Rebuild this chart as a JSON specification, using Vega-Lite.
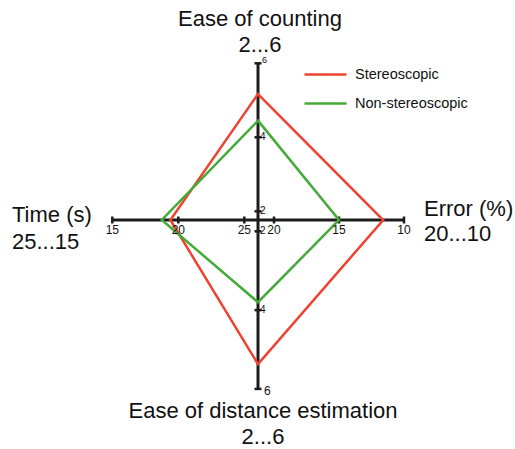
{
  "$schema": "https://vega.github.io/schema/vega-lite/v6.json",
  "width": 515,
  "height": 449,
  "padding": 0,
  "autosize": "none",
  "background": "white",
  "config": {
    "view": {"stroke": null},
    "text": {"font": "Liberation Sans", "color": "#111111"}
  },
  "data": {
    "values": [
      {"kind": "tick", "axis": "top", "value": 2},
      {"kind": "tick", "axis": "top", "value": 4},
      {"kind": "tick", "axis": "top", "value": 6},
      {"kind": "tick", "axis": "bottom", "value": 2},
      {"kind": "tick", "axis": "bottom", "value": 4},
      {"kind": "tick", "axis": "bottom", "value": 6},
      {"kind": "tick", "axis": "left", "value": 25},
      {"kind": "tick", "axis": "left", "value": 20},
      {"kind": "tick", "axis": "left", "value": 15},
      {"kind": "tick", "axis": "right", "value": 20},
      {"kind": "tick", "axis": "right", "value": 15},
      {"kind": "tick", "axis": "right", "value": 10},
      {"kind": "title", "axis": "top", "value": 6, "text": "Ease of counting\n2...6"},
      {"kind": "title", "axis": "bottom", "value": 6, "text": "Ease of distance estimation\n2...6"},
      {"kind": "title", "axis": "left", "value": 15, "text": "Time (s)\n25...15"},
      {"kind": "title", "axis": "right", "value": 10, "text": "Error (%)\n20...10"},
      {"kind": "score", "series": "Stereoscopic", "axis": "top", "value": 5.17},
      {"kind": "score", "series": "Stereoscopic", "axis": "right", "value": 11.6},
      {"kind": "score", "series": "Stereoscopic", "axis": "bottom", "value": 5.37},
      {"kind": "score", "series": "Stereoscopic", "axis": "left", "value": 19.4},
      {"kind": "score", "series": "Non-stereoscopic", "axis": "top", "value": 4.45},
      {"kind": "score", "series": "Non-stereoscopic", "axis": "right", "value": 15},
      {"kind": "score", "series": "Non-stereoscopic", "axis": "bottom", "value": 3.8},
      {"kind": "score", "series": "Non-stereoscopic", "axis": "left", "value": 18.75}
    ]
  },
  "transform": [
    {"calculate": "datum.axis === 'top' ? 8.7 + 37 * (datum.value - 2) : datum.axis === 'bottom' ? 11.3 + 39.4 * (datum.value - 2) : datum.axis === 'left' ? 13.7 + 13.2 * (25 - datum.value) : 16 + 13 * (20 - datum.value)", "as": "r"},
    {"calculate": "datum.axis === 'left' ? -datum.r : datum.axis === 'right' ? datum.r : 0", "as": "px"},
    {"calculate": "datum.axis === 'top' ? datum.r : datum.axis === 'bottom' ? -datum.r : 0", "as": "py"},
    {"calculate": "indexof(['top', 'right', 'bottom', 'left'], datum.axis)", "as": "seq"}
  ],
  "encoding": {
    "x": {"field": "px", "type": "quantitative", "scale": {"domain": [-258, 257], "nice": false, "zero": false}, "axis": null},
    "y": {"field": "py", "type": "quantitative", "scale": {"domain": [-229, 220], "nice": false, "zero": false}, "axis": null}
  },
  "layer": [
    {
      "transform": [
        {"filter": "datum.kind === 'tick'"},
        {"joinaggregate": [{"op": "max", "field": "r", "as": "rmax"}], "groupby": ["axis"]},
        {"filter": "datum.r === datum.rmax"}
      ],
      "mark": {"type": "rule", "color": "#1c1c1c", "strokeWidth": 3},
      "encoding": {
        "x": {"datum": 0, "type": "quantitative"},
        "y": {"datum": 0, "type": "quantitative"},
        "x2": {"field": "px"},
        "y2": {"field": "py"}
      }
    },
    {
      "transform": [{"filter": "datum.kind === 'tick' && (datum.axis === 'top' || datum.axis === 'bottom')"}],
      "mark": {"type": "tick", "orient": "horizontal", "size": 7, "thickness": 2.5, "color": "#1c1c1c", "opacity": 1},
      "encoding": {}
    },
    {
      "transform": [{"filter": "datum.kind === 'tick' && (datum.axis === 'left' || datum.axis === 'right')"}],
      "mark": {"type": "tick", "orient": "vertical", "size": 7, "thickness": 2.5, "color": "#1c1c1c", "opacity": 1},
      "encoding": {}
    },
    {
      "transform": [{"filter": "datum.kind === 'score'"}],
      "mark": {"type": "line", "interpolate": "linear-closed", "strokeWidth": 2.5},
      "encoding": {
        "order": {"field": "seq", "type": "quantitative"},
        "color": {
          "field": "series",
          "type": "nominal",
          "scale": {"domain": ["Stereoscopic", "Non-stereoscopic"], "range": ["#ee4330", "#44aa38"]},
          "legend": {
            "orient": "none",
            "legendX": 303,
            "legendY": 52,
            "title": null,
            "symbolType": "stroke",
            "symbolSize": 1764,
            "symbolStrokeWidth": 2.5,
            "labelFont": "Liberation Sans",
            "labelFontSize": 14.5,
            "labelColor": "#111111",
            "labelOffset": 7,
            "rowPadding": -5,
            "padding": 0
          }
        }
      }
    },
    {
      "transform": [{"filter": "datum.kind === 'tick' && (datum.axis === 'top' || datum.axis === 'bottom') && datum.value !== 6"}],
      "mark": {"type": "text", "align": "left", "baseline": "middle", "dx": 2, "fontSize": 10},
      "encoding": {"text": {"field": "value", "type": "quantitative"}}
    },
    {
      "transform": [{"filter": "datum.kind === 'tick' && datum.axis === 'top' && datum.value === 6"}],
      "mark": {"type": "text", "align": "left", "baseline": "middle", "dx": 4, "dy": -3, "fontSize": 9},
      "encoding": {"text": {"field": "value", "type": "quantitative"}}
    },
    {
      "transform": [{"filter": "datum.kind === 'tick' && datum.axis === 'bottom' && datum.value === 6"}],
      "mark": {"type": "text", "align": "left", "baseline": "middle", "dx": 6, "dy": 2, "fontSize": 12},
      "encoding": {"text": {"field": "value", "type": "quantitative"}}
    },
    {
      "transform": [{"filter": "datum.kind === 'tick' && (datum.axis === 'left' || datum.axis === 'right')"}],
      "mark": {"type": "text", "align": "center", "baseline": "top", "dy": 5, "fontSize": 12},
      "encoding": {"text": {"field": "value", "type": "quantitative"}}
    },
    {
      "transform": [{"filter": "datum.kind === 'title' && datum.axis === 'top'"}],
      "mark": {"type": "text", "align": "center", "baseline": "alphabetic", "lineBreak": "\n", "lineHeight": 26, "dx": 2, "dy": -37.5, "fontSize": 22},
      "encoding": {"text": {"field": "text"}}
    },
    {
      "transform": [{"filter": "datum.kind === 'title' && datum.axis === 'bottom'"}],
      "mark": {"type": "text", "align": "center", "baseline": "alphabetic", "lineBreak": "\n", "lineHeight": 26, "dx": 5, "dy": 29, "fontSize": 22},
      "encoding": {"text": {"field": "text"}}
    },
    {
      "transform": [{"filter": "datum.kind === 'title' && datum.axis === 'right'"}],
      "mark": {"type": "text", "align": "left", "baseline": "alphabetic", "lineBreak": "\n", "lineHeight": 25, "dx": 20, "dy": -4.5, "fontSize": 22},
      "encoding": {"text": {"field": "text"}}
    },
    {
      "transform": [{"filter": "datum.kind === 'title' && datum.axis === 'left'"}],
      "mark": {"type": "text", "align": "left", "baseline": "alphabetic", "lineBreak": "\n", "lineHeight": 26.5, "dx": -100.3, "dy": 2.3, "fontSize": 22},
      "encoding": {"text": {"field": "text"}}
    }
  ]
}
